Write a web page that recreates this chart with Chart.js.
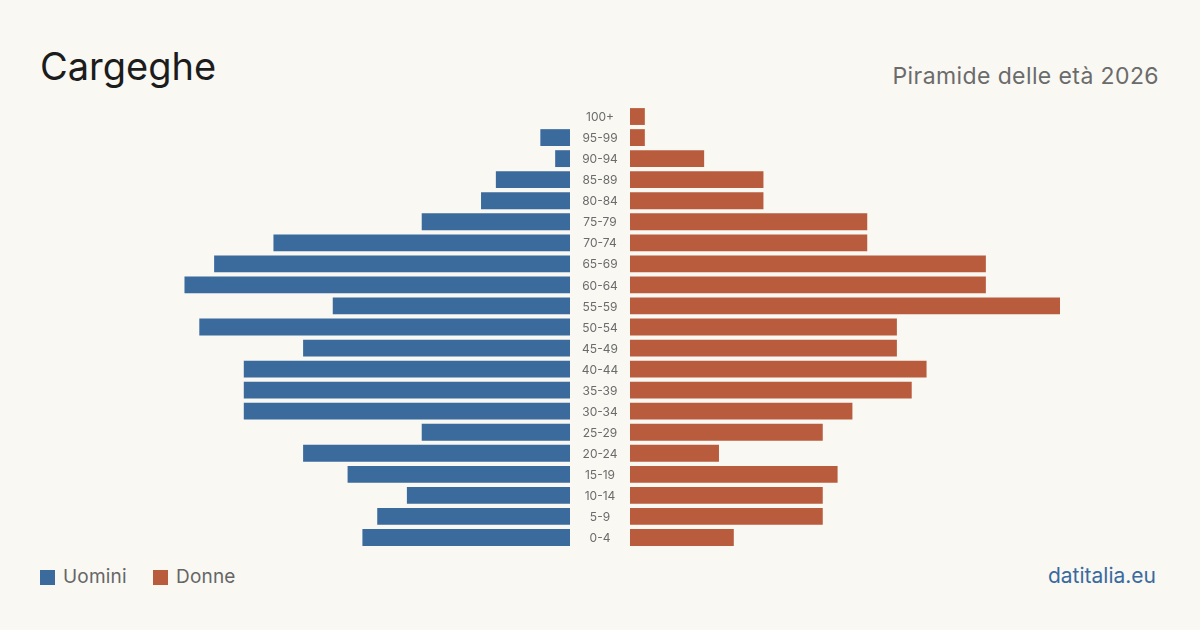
<!DOCTYPE html>
<html>
<head>
<meta charset="utf-8">
<script src="https://cdn.jsdelivr.net/npm/chart.js@4/dist/chart.umd.min.js"></script>
<style>
  html, body { margin:0; padding:0; }
  body { width:1200px; height:630px; background:#f9f8f3; position:relative; overflow:hidden; font-family:Inter, "Noto Sans", sans-serif; }
  #title { position:absolute; left:40px; top:42px; font-size:38px; color:#1c1c1c; line-height:48px; }
  #subtitle { position:absolute; right:41px; top:62px; font-size:23px; letter-spacing:0.4px; color:#6b6b6b; line-height:28px; }
  #leftWrap { position:absolute; left:140px; top:106px; width:430px; height:442px; }
  #rightWrap { position:absolute; left:570px; top:106px; width:490px; height:442px; }
  .legend { position:absolute; top:566px; font-size:19px; letter-spacing:0.2px; color:#666; line-height:22px; display:flex; align-items:center; }
  .sw { width:15px; height:15px; display:inline-block; margin-right:8px; }
  #source { position:absolute; right:44px; top:564px; font-size:21px; color:#3a6a9e; line-height:24px; }
</style>
</head>
<body>
<div id="title">Cargeghe</div>
<div id="subtitle">Piramide delle età 2026</div>
<div id="leftWrap"><canvas id="left"></canvas></div>
<div id="rightWrap"><canvas id="right"></canvas></div>
<div class="legend" style="left:40px"><span class="sw" style="background:#3b6a9c"></span>Uomini</div>
<div class="legend" style="left:153px"><span class="sw" style="background:#b95c3d"></span>Donne</div>
<div id="source">datitalia.eu</div>
<script>
const ageGroups = ["0-4","5-9","10-14","15-19","20-24","25-29","30-34","35-39","40-44","45-49","50-54","55-59","60-64","65-69","70-74","75-79","80-84","85-89","90-94","95-99","100+"];
const men   = [14, 13, 11, 15, 18, 10, 22, 22, 22, 18, 25, 16, 26, 24, 20, 10, 6, 5, 1, 2, 0];
const women = [7, 13, 13, 14, 6, 13, 15, 19, 20, 18, 18, 29, 24, 24, 16, 16, 9, 9, 5, 1, 1];
const seriesNames = ["Uomini", "Donne"];
const colors = { men: "#3b6a9c", women: "#b95c3d" };

const maxVal = Math.max(...men, ...women);

function baseOptions(reverseX, padLeft) {
  return {
    indexAxis: 'y',
    responsive: true,
    maintainAspectRatio: false,
    animation: false,
    layout: { padding: { left: padLeft, right: 0, top: 0, bottom: 0 } },
    plugins: { legend: { display: false }, tooltip: { enabled: false } },
    scales: {
      x: { display: false, min: 0, max: maxVal, reverse: reverseX, grid: { display: false } },
      y: { display: false, reverse: true, grid: { display: false } }
    }
  };
}

new Chart(document.getElementById('left'), {
  type: 'bar',
  data: {
    labels: ageGroups,
    datasets: [{ label: seriesNames[0], data: men, backgroundColor: colors.men, barPercentage: 0.8, categoryPercentage: 1.0 }]
  },
  options: baseOptions(true, 0)
});

const centerLabels = {
  id: 'centerLabels',
  afterDraw(chart) {
    const ctx = chart.ctx;
    const yScale = chart.scales.y;
    const cx = chart.chartArea.left - 30;
    ctx.save();
    ctx.font = '12px Inter, "Noto Sans", sans-serif';
    ctx.fillStyle = '#6b6b6b';
    ctx.textAlign = 'center';
    ctx.textBaseline = 'middle';
    chart.data.labels.forEach((lab, i) => {
      ctx.fillText(lab, cx, yScale.getPixelForValue(i) + 1);
    });
    ctx.restore();
  }
};

new Chart(document.getElementById('right'), {
  type: 'bar',
  data: {
    labels: ageGroups,
    datasets: [{ label: seriesNames[1], data: women, backgroundColor: colors.women, barPercentage: 0.8, categoryPercentage: 1.0 }]
  },
  options: baseOptions(false, 60),
  plugins: [centerLabels]
});
</script>
</body>
</html>
